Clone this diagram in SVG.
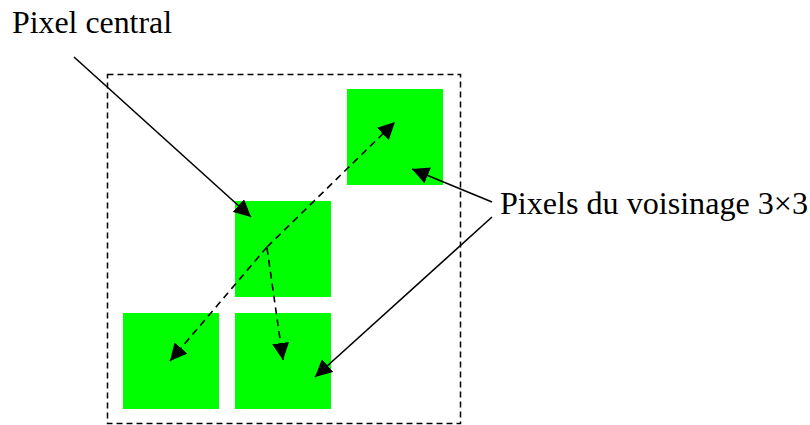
<svg xmlns="http://www.w3.org/2000/svg" width="810" height="425" viewBox="0 0 810 425">
<defs>
<style>
.px{fill:#00ff00;}
.solid{stroke:#000;stroke-width:1.6;fill:none;}
.dash{stroke:#000;stroke-width:1.6;fill:none;stroke-dasharray:7 5;}
</style>
<marker id="ah" viewBox="0 0 10 10" refX="10" refY="5" markerWidth="17" markerHeight="17" markerUnits="userSpaceOnUse" orient="auto">
<path d="M0,0 L10,5 L0,10 z" fill="#000"/>
</marker>
</defs>
<rect width="810" height="425" fill="#fff"/>
<g id="neighbourhood">
<rect x="107.5" y="74.5" width="353" height="349" fill="none" stroke="#000" stroke-width="1.5" stroke-dasharray="6 4"/>
</g>
<g id="pixel-top-right"><rect class="px" x="347" y="89" width="96" height="96"/></g>
<g id="pixel-center"><rect class="px" x="235" y="201" width="96" height="96"/></g>
<g id="pixel-bottom-left"><rect class="px" x="123" y="313" width="96" height="96"/></g>
<g id="pixel-bottom-middle"><rect class="px" x="235" y="313" width="96" height="96"/></g>
<g id="label-central"><text x="12" y="33" font-family="'Liberation Serif', 'Times New Roman', serif" font-size="31" fill="#000" textLength="160" lengthAdjust="spacingAndGlyphs">Pixel central</text></g>
<g id="label-voisinage"><text x="500" y="214" font-family="'Liberation Serif', 'Times New Roman', serif" font-size="31" fill="#000" textLength="308" lengthAdjust="spacingAndGlyphs">Pixels du voisinage 3×3</text></g>
<g id="connectors">
<line class="solid" x1="74" y1="57" x2="251" y2="217" marker-end="url(#ah)"/>
<line class="solid" x1="492" y1="202" x2="412" y2="169" marker-end="url(#ah)"/>
<line class="solid" x1="492" y1="217" x2="315" y2="377" marker-end="url(#ah)"/>
<line class="dash" x1="267" y1="247" x2="395" y2="122" marker-end="url(#ah)"/>
<line class="dash" x1="267" y1="247" x2="170" y2="361" marker-end="url(#ah)"/>
<line class="dash" x1="267" y1="248" x2="283" y2="360" marker-end="url(#ah)"/>
</g>
</svg>
